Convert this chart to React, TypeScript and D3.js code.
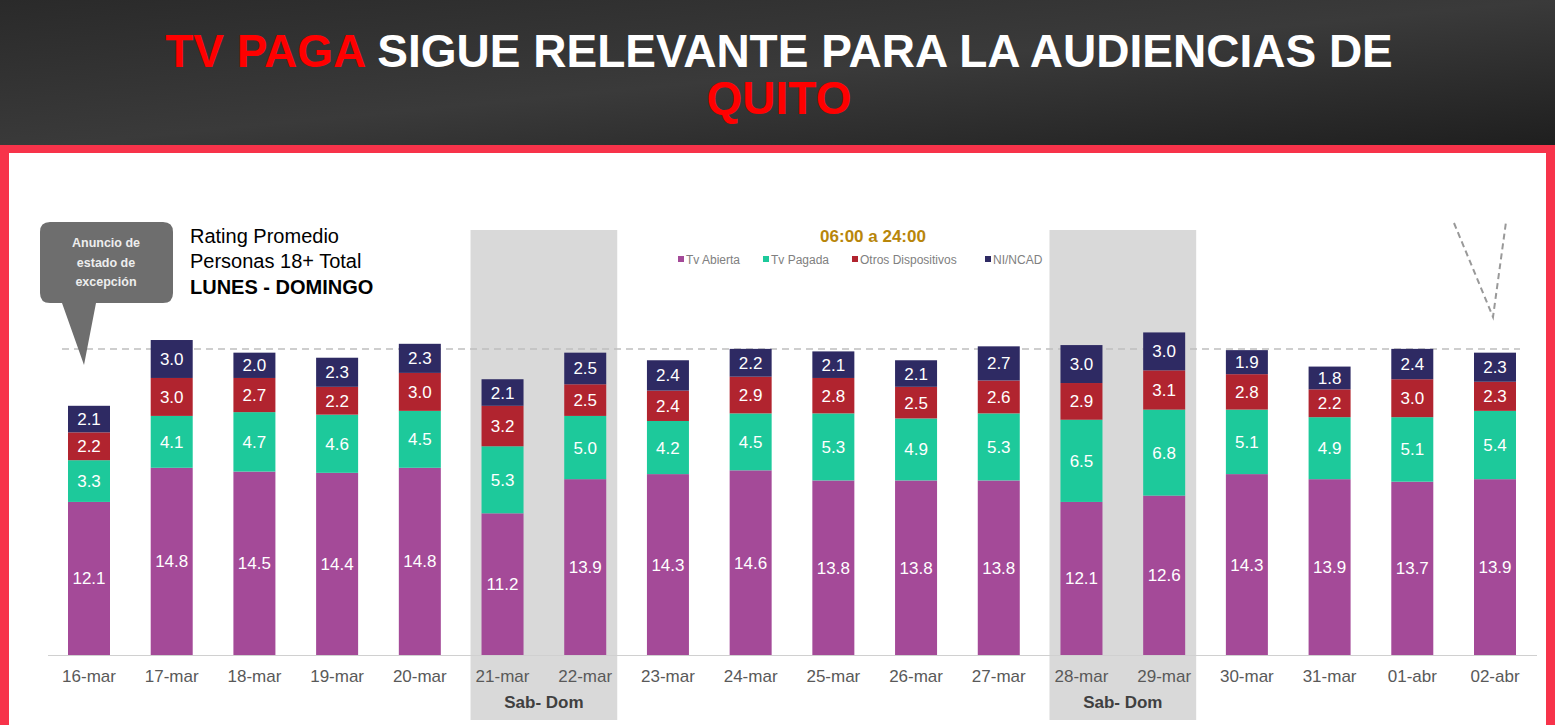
import React from "react";
import * as d3 from "d3";

const dates = ["16-mar","17-mar","18-mar","19-mar","20-mar","21-mar","22-mar","23-mar","24-mar","25-mar","26-mar","27-mar","28-mar","29-mar","30-mar","31-mar","01-abr","02-abr"];
const tvAbierta = [12.1,14.8,14.5,14.4,14.8,11.2,13.9,14.3,14.6,13.8,13.8,13.8,12.1,12.6,14.3,13.9,13.7,13.9];
const tvPagada = [3.3,4.1,4.7,4.6,4.5,5.3,5.0,4.2,4.5,5.3,4.9,5.3,6.5,6.8,5.1,4.9,5.1,5.4];
const otros = [2.2,3.0,2.7,2.2,3.0,3.2,2.5,2.4,2.9,2.8,2.5,2.6,2.9,3.1,2.8,2.2,3.0,2.3];
const nincad = [2.1,3.0,2.0,2.3,2.3,2.1,2.5,2.4,2.2,2.1,2.1,2.7,3.0,3.0,1.9,1.8,2.4,2.3];
const seriesNames = ["Tv Abierta","Tv Pagada","Otros Dispositivos","NI/NCAD"];
const colors = ["#A44A98","#1DC99B","#B1242F","#2E2A63"];
const weekends = [["21-mar","22-mar"],["28-mar","29-mar"]];

export default function App() {
  const W = 1555, H = 725;
  const x = d3.scalePoint<string>().domain(dates).range([89, 1495]);
  const y = d3.scaleLinear().domain([0, 20]).range([655, 655 - 20 * 12.65]);
  const bw = 42;
  const rows = dates.map((d, i) => ({ d, v: [tvAbierta[i], tvPagada[i], otros[i], nincad[i]] }));
  const font = "Liberation Sans, Arial, sans-serif";
  const legendX = [678, 763, 852, 985];
  return (
    <svg width={W} height={H} style={{ position: "absolute", left: 0, top: 0 }} fontFamily={font}>
      <defs>
        <linearGradient id="hdr" x1="0" x2="1" y1="0" y2="1">
          <stop offset="0" stopColor="#2a2a2a" />
          <stop offset="0.5" stopColor="#3a3a3a" />
          <stop offset="1" stopColor="#1e1e1e" />
        </linearGradient>
      </defs>
      <rect x={0} y={0} width={W} height={H} fill="#2b2b2b" />
      <rect x={0} y={0} width={W} height={150} fill="url(#hdr)" />
      <rect x={0} y={145} width={W} height={H - 145} fill="#F7334A" />
      <rect x={9} y={153} width={W - 18} height={H - 153} fill="#fff" />
      <text x={779} y={67} textAnchor="middle" fontSize={46} fontWeight="bold" fill="#fff">
        <tspan fill="#FF0000">TV PAGA</tspan> SIGUE RELEVANTE PARA LA AUDIENCIAS DE
      </text>
      <text x={779} y={114} textAnchor="middle" fontSize={46} fontWeight="bold" fill="#FF0000">QUITO</text>

      {weekends.map(([a, b], i) => (
        <g key={i}>
          <rect x={x(a)! - 32} y={230} width={x(b)! - x(a)! + 64} height={490} fill="#D9D9D9" />
          <text x={(x(a)! + x(b)!) / 2} y={708} textAnchor="middle" fontSize={17} fontWeight="bold" fill="#404040">Sab- Dom</text>
        </g>
      ))}

      <line x1={62} x2={1520} y1={349} y2={349} stroke="#BFBFBF" strokeWidth={1.5} strokeDasharray="7,5" />
      <line x1={48} x2={1537} y1={655.5} y2={655.5} stroke="#D0D0D0" strokeWidth={1} />

      {rows.map((r) => {
        let acc = 0;
        return (
          <g key={r.d}>
            {r.v.map((v, k) => {
              const y0 = y(acc), y1 = y(acc + v);
              acc += v;
              return (
                <g key={k}>
                  <rect x={x(r.d)! - bw / 2} y={y1} width={bw} height={y0 - y1} fill={colors[k]} />
                  <text x={x(r.d)!} y={(y0 + y1) / 2 + 6} textAnchor="middle" fontSize={17} fill="#fff">{v.toFixed(1)}</text>
                </g>
              );
            })}
            <text x={x(r.d)!} y={682} textAnchor="middle" fontSize={17} fill="#595959">{r.d}</text>
          </g>
        );
      })}

      <text x={873} y={242} textAnchor="middle" fontSize={17} fontWeight="bold" fill="#B8860B">06:00 a 24:00</text>
      {seriesNames.map((s, i) => (
        <g key={s}>
          <rect x={legendX[i]} y={256} width={6} height={6} fill={colors[i]} />
          <text x={legendX[i] + 8} y={264} fontSize={12} fill="#808080">{s}</text>
        </g>
      ))}

      <g>
        <path d="M50,222 H163 Q173,222 173,232 V293 Q173,303 163,303 H96 L84,365 L62,303 H50 Q40,303 40,293 V232 Q40,222 50,222 Z" fill="#6E6E6E" />
        {["Anuncio de", "estado de", "excepción"].map((t, i) => (
          <text key={t} x={106} y={247 + i * 19.5} textAnchor="middle" fontSize={12.5} fontWeight="bold" fill="#EDEDED">{t}</text>
        ))}
      </g>
      <text x={190} y={243} fontSize={20} fill="#000">Rating Promedio</text>
      <text x={190} y={268} fontSize={20} fill="#000">Personas 18+ Total</text>
      <text x={190} y={294} fontSize={20} fontWeight="bold" fill="#000">LUNES - DOMINGO</text>

      <path d="M1454,223 L1493,317 L1506,222" fill="none" stroke="#999" strokeWidth={2} strokeDasharray="6,4" />
    </svg>
  );
}
